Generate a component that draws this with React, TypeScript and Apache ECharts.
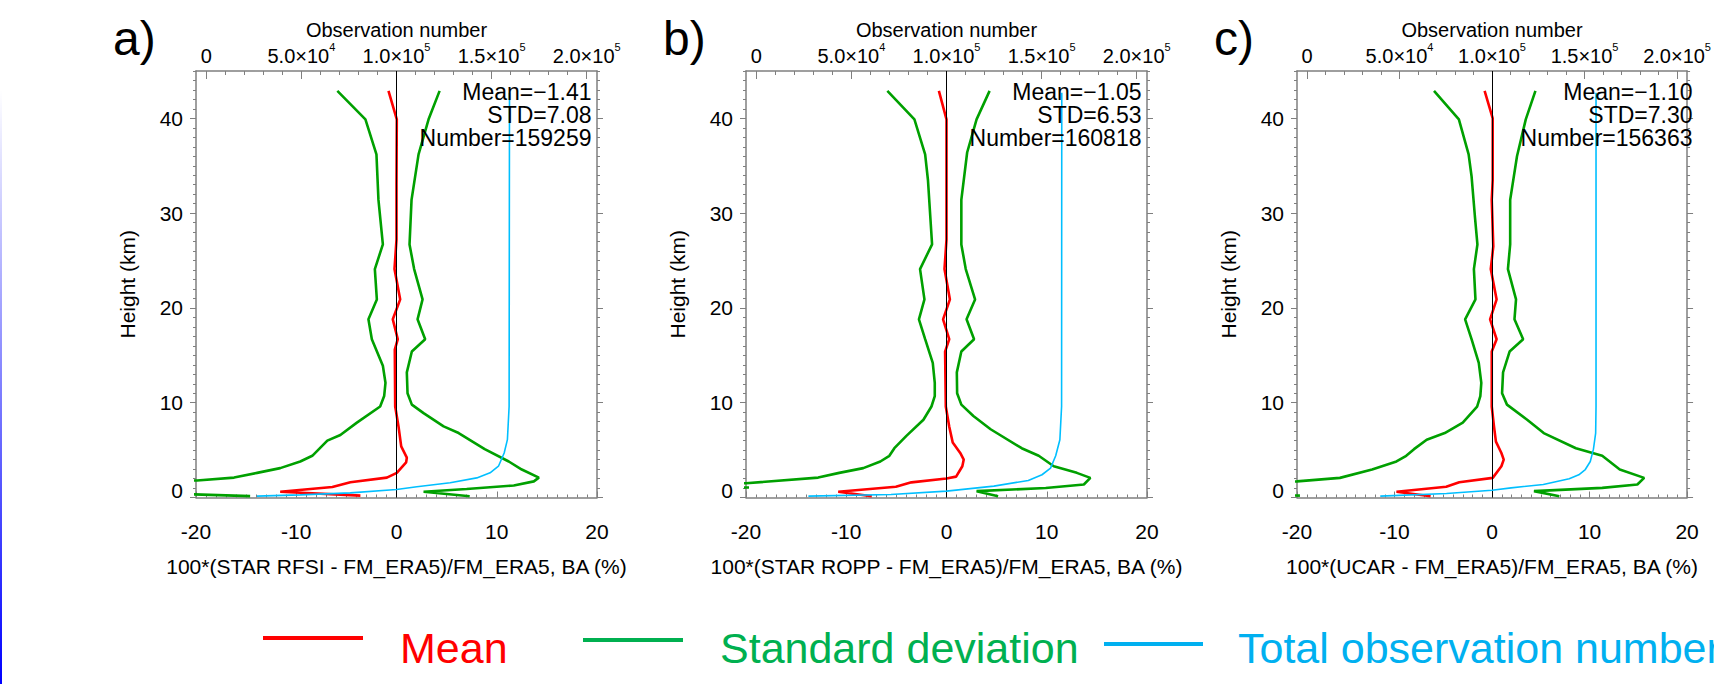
import React, { useEffect, useRef } from 'react';
import * as echarts from 'echarts';

const FONT = 'Liberation Sans';

// ---- tick values / labels ----
const xTicks = [-20, -10, 0, 10, 20];
const heightTicks = [0, 10, 20, 30, 40];
const heightMinor = [0,1,2,3,4,5,6,7,8,9,10,11,12,13,14,15,16,17,18,19,20,21,22,23,24,25,26,27,28,29,30,31,32,33,34,35,36,37,38,39,40,41,42,43,44,45];
const obsTicks = [0, 50000, 100000, 150000, 200000];
const obsMinor = [0,10000,20000,30000,40000,50000,60000,70000,80000,90000,100000,110000,120000,130000,140000,150000,160000,170000,180000,190000,200000];

// ---- panel texts ----
const panelLetters = ['a)', 'b)', 'c)'];
const xNames = [
  '100*(STAR RFSI - FM_ERA5)/FM_ERA5, BA (%)',
  '100*(STAR ROPP - FM_ERA5)/FM_ERA5, BA (%)',
  '100*(UCAR - FM_ERA5)/FM_ERA5, BA (%)',
];
const meanStats = ['−1.41', '−1.05', '−1.10'];
const stdStats = ['7.08', '6.53', '7.30'];
const numberStats = ['159259', '160818', '156363'];
const legendNames = ['Mean', 'Standard deviation', 'Total observation number'];

// ---- panel a data: [BA %, height km] and [obs number, height km] ----
const meanA = [[-0.8,42.9],[0.03,39.9],[0.0,33.0],[0.0,27.2],[-0.2,24.1],[0.37,20.9],[-0.37,18.8],[0.13,16.7],[-0.17,15.6],[-0.13,9.6],[0.2,7.5],[0.47,5.4],[1.03,4.2],[0.96,3.7],[0.03,2.6],[-0.96,2.1],[-4.6,1.6],[-6.4,1.1],[-11.6,0.6],[-3.6,0.2]];
const stdLowA = [[-5.9,42.9],[-3.1,39.9],[-2.0,36.2],[-1.8,31.4],[-1.36,26.7],[-2.16,24.1],[-1.96,20.9],[-2.8,18.8],[-2.46,16.7],[-1.36,13.9],[-1.1,12.1],[-1.23,10.7],[-1.63,9.6],[-3.95,7.9],[-5.6,6.6],[-6.9,6.0],[-8.4,4.4],[-9.6,3.8],[-11.6,3.1],[-13.9,2.6],[-16.2,2.1],[-19.9,1.8],[-40,1.0],[-14.6,0.14]];
const stdHighA = [[4.3,42.9],[3.2,39.9],[2.2,36.2],[1.5,31.4],[1.3,26.7],[1.76,24.1],[2.6,20.9],[2.1,18.8],[2.86,16.7],[1.53,15.4],[1.03,13.2],[1.1,11.0],[1.53,9.8],[2.7,8.9],[4.7,7.5],[6.2,6.8],[8.8,5.1],[11.2,3.8],[12.5,2.95],[14.2,2.1],[13.7,1.7],[11.7,1.27],[7.0,0.9],[2.7,0.6],[7.3,0.14]];
const obsA = [[26600,0.14],[49400,0.28],[75700,0.49],[100000,0.84],[110700,1.13],[128200,1.55],[142200,2.07],[149200,2.6],[153600,3.3],[156600,4.7],[158300,6.1],[159200,9.6],[159400,42.7]];

// ---- panel b data ----
const meanB = [[-0.76,42.9],[0,39.9],[0,27.2],[-0.2,24.1],[0.34,20.9],[-0.34,18.8],[0.27,16.7],[-0.14,15.4],[-0.07,9.6],[0.27,7.5],[0.62,5.8],[1.37,4.7],[1.72,4.0],[1.58,3.3],[0.96,2.2],[0,2.0],[-3.5,1.6],[-5.05,1.13],[-10.8,0.6],[-7.45,0.14]];
const stdLowB = [[-5.9,42.9],[-3.2,39.9],[-2.13,36.2],[-1.85,33.5],[-1.44,26.7],[-2.64,24.1],[-2.2,20.9],[-2.75,18.8],[-2.13,16.7],[-1.37,14.2],[-1.17,12.1],[-1.17,10.7],[-1.5,9.6],[-2.3,8.2],[-4.0,6.5],[-5.2,5.2],[-5.7,4.4],[-6.6,3.8],[-8.3,3.1],[-10.7,2.6],[-12.8,2.1],[-20,1.5],[-40,1.3],[-19.7,1.05]];
const stdHighB = [[4.3,42.9],[3.0,39.9],[2.06,36.4],[1.48,31.4],[1.48,26.7],[1.92,24.1],[2.85,20.9],[2.0,18.8],[2.75,16.7],[1.48,15.4],[1.03,13.2],[1.06,11.0],[1.48,9.8],[2.68,8.6],[4.4,7.2],[7.5,5.2],[9.2,4.4],[10.7,3.3],[13.0,2.6],[14.35,2.07],[13.7,1.37],[9.9,1.0],[3.0,0.67],[5.15,0.14]];
const obsB = [[27400,0.14],[70800,0.32],[100000,0.67],[124900,1.2],[143000,1.8],[150200,2.4],[154700,3.1],[157400,4.4],[159600,6.1],[160500,9.6],[160600,42.7]];

// ---- panel c data ----
const meanC = [[-0.76,42.9],[0.07,40.0],[0.07,33.5],[-0.03,31.4],[0.13,26.5],[-0.13,24.1],[0.47,20.9],[-0.2,18.8],[0.47,16.7],[-0.03,15.4],[-0.03,9.6],[0.2,7.5],[0.4,5.9],[0.96,4.7],[1.2,4.0],[0.96,3.3],[0.07,2.07],[-3.36,1.6],[-4.7,1.13],[-9.8,0.6],[-6.3,0.14]];
const stdLowC = [[-5.95,42.9],[-3.4,39.9],[-2.4,36.2],[-2.1,33.9],[-1.76,29.7],[-1.5,26.7],[-1.86,24.1],[-1.7,20.9],[-2.76,18.8],[-2.1,16.7],[-1.36,14.2],[-1.1,12.1],[-1.2,10.7],[-1.53,9.6],[-3.0,7.9],[-4.85,6.8],[-6.7,6.1],[-8.0,5.1],[-8.8,4.4],[-9.8,3.8],[-12.3,2.95],[-15.6,2.07],[-20,1.7],[-40,0.5],[-19.7,0.2]];
const stdHighC = [[4.45,42.9],[3.46,39.9],[2.56,36.0],[1.86,31.4],[1.86,26.7],[1.63,24.1],[2.46,20.9],[2.3,18.8],[3.19,16.7],[1.8,15.4],[1.13,13.2],[1.03,11.0],[1.53,9.8],[3.6,8.2],[5.3,6.8],[8.6,5.2],[11.3,4.4],[13.1,2.95],[15.6,2.07],[14.9,1.37],[11.3,1.02],[4.3,0.67],[6.9,0.14]];
const obsC = [[39600,0.14],[75400,0.42],[100000,0.77],[110300,1.02],[127700,1.37],[141700,1.97],[146900,2.4],[150400,2.95],[153100,3.8],[154800,5.1],[156000,6.8],[156200,9.6],[156200,42.7]];

const means = [meanA, meanB, meanC];
const stdLows = [stdLowA, stdLowB, stdLowC];
const stdHighs = [stdHighA, stdHighB, stdHighC];
const obsCounts = [obsA, obsB, obsC];

// ---- styling / layout ----
const RED = '#ff0000';
const GREEN = '#00a000';
const BLUE = '#00bfff';
const LEG_GREEN = '#00b050';
const LEG_BLUE = '#00b0f0';
const GREY = '#7f7f7f';
const GRID_LEFT = [196, 746, 1297];
const GRID_W = 401;
const GRID_TOP = 71;
const GRID_H = 426.5;

function obsLabel(v: number): string {
  if (v === 0) return '{b|0}';
  const e = Math.floor(Math.log10(v) + 1e-9);
  const m = v / Math.pow(10, e);
  return '{b|' + m.toFixed(1) + '×10}{s|' + e + '}';
}

function buildOption() {
  const grid: any[] = [];
  const xAxis: any[] = [];
  const yAxis: any[] = [];
  const series: any[] = [];
  const graphic: any[] = [];
  const lineStyle = { color: GREY, width: 1.5 };
  const tickStyle = { color: GREY, width: 1 };
  const labelStyle = { fontSize: 21, fontFamily: FONT, color: '#000' };

  for (let i = 0; i < 3; i++) {
    grid.push({ left: GRID_LEFT[i], top: GRID_TOP, width: GRID_W, height: GRID_H });
    // bottom x
    xAxis.push({
      gridIndex: i, type: 'value', position: 'bottom', min: xTicks[0], max: xTicks[xTicks.length - 1], interval: 10,
      axisLine: { show: true, onZero: false, lineStyle },
      axisTick: { show: true, inside: true, length: 6, lineStyle: tickStyle },
      minorTick: { show: true, splitNumber: 10, length: 3, lineStyle: tickStyle },
      axisLabel: { ...labelStyle, margin: 23, formatter: (v: number) => String(v) },
      splitLine: { show: false }, minorSplitLine: { show: false },
      name: xNames[i], nameLocation: 'middle', nameGap: 58, nameMoveOverlap: false,
      nameTextStyle: { fontSize: 21, fontFamily: FONT, color: '#000' },
    });
    // top obs major
    xAxis.push({
      gridIndex: i, type: 'value', position: 'top', min: -5400, max: 205400,
      axisLine: { show: true, onZero: false, lineStyle },
      axisTick: { show: true, inside: true, length: 8, customValues: obsTicks, lineStyle: tickStyle },
      axisLabel: {
        show: true, customValues: obsTicks, margin: 0, formatter: obsLabel,
        rich: {
          b: { fontSize: 20, fontFamily: FONT, color: '#000', lineHeight: 30 },
          s: { fontSize: 11, fontFamily: FONT, color: '#000', lineHeight: 11, verticalAlign: 'top' },
        },
      },
      splitLine: { show: false },
      name: 'Observation number', nameLocation: 'middle', nameGap: 31, nameMoveOverlap: false,
      nameTextStyle: { fontSize: 20, fontFamily: FONT, color: '#000' },
    });
    // top obs minor
    xAxis.push({
      gridIndex: i, type: 'value', position: 'top', min: -5400, max: 205400,
      axisLine: { show: false, onZero: false },
      axisTick: { show: true, inside: true, length: 4, customValues: obsMinor, lineStyle: tickStyle },
      axisLabel: { show: false }, splitLine: { show: false },
    });
    // left y
    yAxis.push({
      gridIndex: i, type: 'value', position: 'left', min: 0, max: 45,
      axisLine: { show: true, onZero: false, lineStyle },
      axisTick: { show: true, inside: false, length: 6, customValues: heightTicks, lineStyle: tickStyle },
      axisLabel: {
        ...labelStyle, margin: 13, customValues: heightTicks,
        formatter: (v: number) => (v === 0 ? '{z|0}' : String(v)),
        rich: { z: { fontSize: 21, fontFamily: FONT, color: '#000', padding: [0, 0, 14, 0] } },
      },
      splitLine: { show: false },
      name: 'Height (km)', nameLocation: 'middle', nameGap: 58, nameMoveOverlap: false,
      nameTextStyle: { fontSize: 21, fontFamily: FONT, color: '#000' },
    });
    yAxis.push({
      gridIndex: i, type: 'value', position: 'left', min: 0, max: 45,
      axisLine: { show: false, onZero: false },
      axisTick: { show: true, inside: false, length: 3, customValues: heightMinor, lineStyle: tickStyle },
      axisLabel: { show: false }, splitLine: { show: false },
    });
    yAxis.push({
      gridIndex: i, type: 'value', position: 'right', min: 0, max: 45,
      axisLine: { show: true, onZero: false, lineStyle },
      axisTick: { show: true, inside: false, length: 6, customValues: heightTicks, lineStyle: tickStyle },
      axisLabel: { show: false }, splitLine: { show: false },
    });
    yAxis.push({
      gridIndex: i, type: 'value', position: 'right', min: 0, max: 45,
      axisLine: { show: false, onZero: false },
      axisTick: { show: true, inside: false, length: 3, customValues: heightMinor, lineStyle: tickStyle },
      axisLabel: { show: false }, splitLine: { show: false },
    });

    const xb = 3 * i;
    const yl = 4 * i;
    series.push({
      type: 'line', name: 'Mean', xAxisIndex: xb, yAxisIndex: yl, data: means[i],
      symbol: 'none', showSymbol: false, clip: true, z: 4,
      lineStyle: { color: RED, width: 2.6 }, itemStyle: { color: RED },
      markLine: {
        silent: true, symbol: ['none', 'none'], label: { show: false },
        lineStyle: { color: '#000', width: 1, type: 'solid' },
        data: [{ xAxis: 0 }],
      },
    });
    series.push({
      type: 'line', name: 'Standard deviation', xAxisIndex: xb, yAxisIndex: yl, data: stdLows[i],
      symbol: 'none', showSymbol: false, clip: true, z: 3,
      lineStyle: { color: GREEN, width: 2.6 }, itemStyle: { color: GREEN },
    });
    series.push({
      type: 'line', name: 'Standard deviation', xAxisIndex: xb, yAxisIndex: yl, data: stdHighs[i],
      symbol: 'none', showSymbol: false, clip: true, z: 3,
      lineStyle: { color: GREEN, width: 2.6 }, itemStyle: { color: GREEN },
    });
    series.push({
      type: 'line', name: 'Total observation number', xAxisIndex: xb + 1, yAxisIndex: yl, data: obsCounts[i],
      symbol: 'none', showSymbol: false, clip: true, z: 5,
      lineStyle: { color: BLUE, width: 1.6 }, itemStyle: { color: BLUE },
    });

    // stats text (one multi-line block)
    const rx = GRID_LEFT[i] + GRID_W - 5.5;
    const statText = ['Mean=' + meanStats[i], 'STD=' + stdStats[i], 'Number=' + numberStats[i]].join('\n');
    graphic.push({
      type: 'text', x: rx, y: 80.5, z: 10,
      style: {
        text: statText, font: '23px "' + FONT + '"', fill: '#000', lineHeight: 23,
        textAlign: 'right', textVerticalAlign: 'top',
      },
    });
    graphic.push({
      type: 'text', x: GRID_LEFT[i] - 83, y: 38.4,
      style: { text: panelLetters[i], font: '48px "' + FONT + '"', fill: '#000', textAlign: 'left', textVerticalAlign: 'middle' },
    });
  }

  // legend
  const legLines = [
    { x1: 263, x2: 363, y: 638, color: RED },
    { x1: 583, x2: 683, y: 640, color: LEG_GREEN },
    { x1: 1104, x2: 1203, y: 644, color: LEG_BLUE },
  ];
  const legText = [
    { x: 400, color: RED },
    { x: 720, color: LEG_GREEN },
    { x: 1238, color: LEG_BLUE },
  ];
  for (let k = 0; k < 3; k++) {
    graphic.push({
      type: 'line', shape: { x1: legLines[k].x1, y1: legLines[k].y, x2: legLines[k].x2, y2: legLines[k].y },
      style: { stroke: legLines[k].color, lineWidth: 4 },
    });
    graphic.push({
      type: 'text', x: legText[k].x, y: 648,
      style: { text: legendNames[k], font: '43px "' + FONT + '"', fill: legText[k].color, textAlign: 'left', textVerticalAlign: 'middle' },
    });
  }
  // left edge line
  graphic.push({
    type: 'rect', shape: { x: 0, y: 90, width: 2, height: 594 },
    style: {
      fill: new echarts.graphic.LinearGradient(0, 0, 0, 1, [
        { offset: 0, color: 'rgba(0,0,255,0)' },
        { offset: 1, color: 'rgba(0,0,255,1)' },
      ]),
    },
  });

  return {
    animation: false,
    backgroundColor: '#ffffff',
    textStyle: { fontFamily: FONT },
    grid, xAxis, yAxis, series, graphic,
  };
}

export default function App() {
  const ref = useRef<HTMLDivElement>(null);
  useEffect(() => {
    if (!ref.current) return;
    const chart = echarts.init(ref.current, null, { renderer: 'svg' });
    chart.setOption(buildOption() as any);
    return () => chart.dispose();
  }, []);
  return (
    <div
      ref={ref}
      style={{ position: 'fixed', left: 0, top: 0, width: 1714, height: 684, background: '#fff' }}
    />
  );
}
